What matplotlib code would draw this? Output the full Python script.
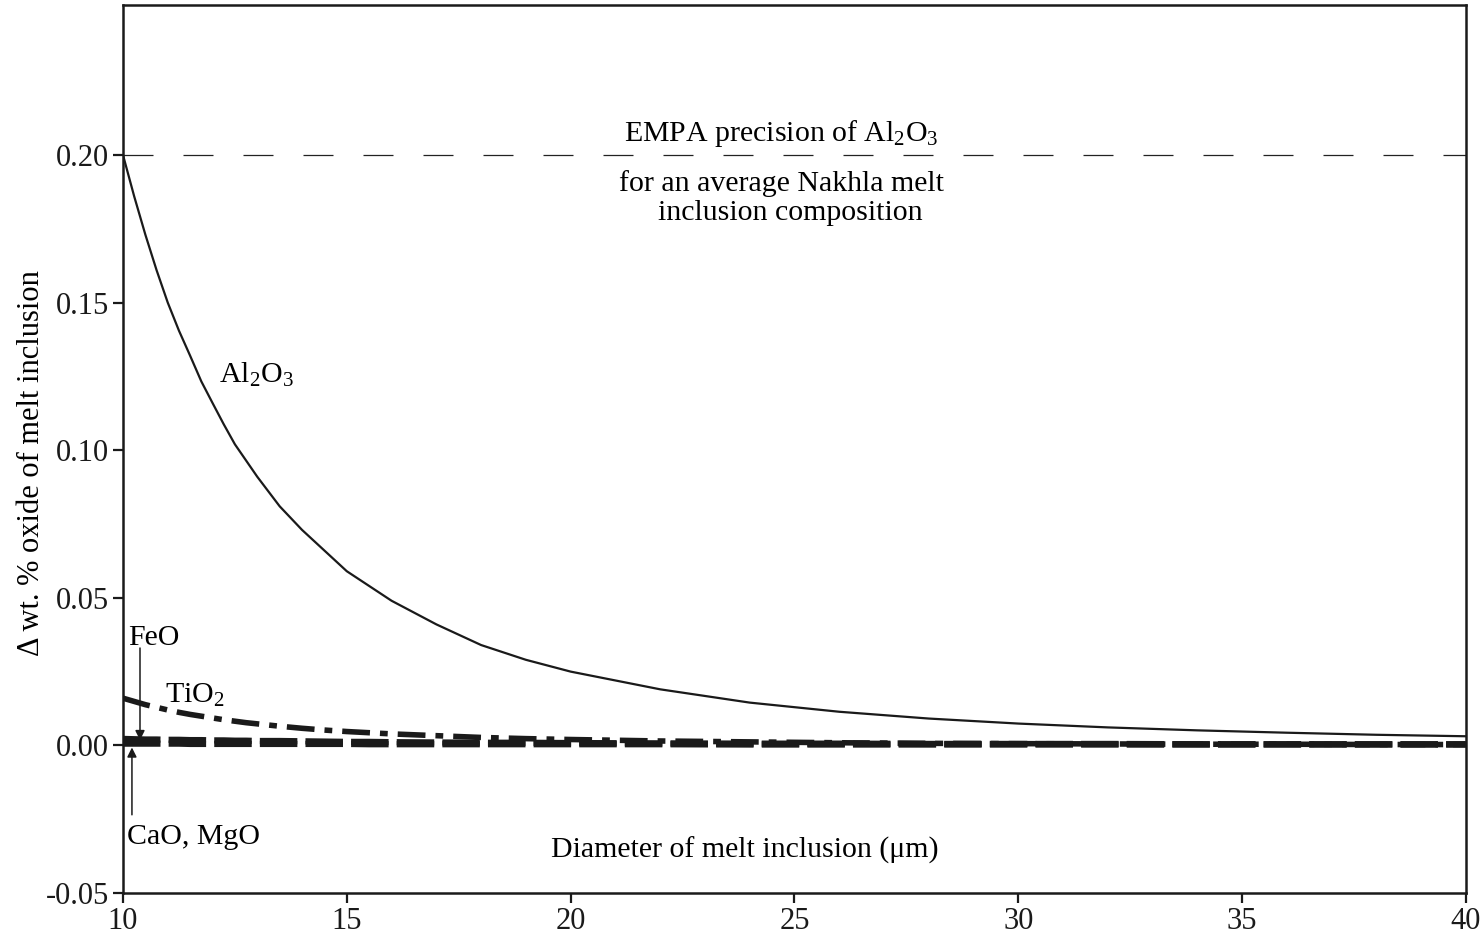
import matplotlib
matplotlib.use("Agg")
import matplotlib.pyplot as plt

plt.rcParams['font.family'] = ['Liberation Serif', 'DejaVu Serif']
plt.rcParams['mathtext.fontset'] = 'custom'
plt.rcParams['mathtext.rm'] = 'Liberation Serif'
plt.rcParams['mathtext.it'] = 'Liberation Serif:italic'

# Data
diam = [10, 10.25, 10.5, 10.75, 11, 11.25, 11.5, 11.75, 12, 12.25, 12.5, 12.75, 13, 13.5, 14, 14.5,
        15, 15.5, 16, 17, 18, 19, 20, 22, 24, 26, 28, 30, 32, 34, 36, 38, 40]
al2o3 = [0.200, 0.186, 0.173, 0.161, 0.150, 0.1405, 0.132, 0.1233, 0.116, 0.1088, 0.102, 0.0965,
         0.091, 0.081, 0.073, 0.066, 0.059, 0.054, 0.049, 0.041, 0.034, 0.029, 0.025,
         0.019, 0.0145, 0.0114, 0.0091, 0.0074, 0.0061, 0.0051, 0.0043, 0.0036, 0.0031]
tio2 = [0.0160, 0.0149, 0.0138, 0.0129, 0.0120, 0.0112, 0.0105, 0.0099, 0.0093, 0.0087, 0.0082,
        0.0077, 0.0073, 0.0065, 0.0058, 0.0052, 0.0047, 0.0043, 0.0039, 0.0033, 0.0027, 0.0023,
        0.0020, 0.0015, 0.0012, 0.0009, 0.0007, 0.0006, 0.0005, 0.0004, 0.0004, 0.0003, 0.0003]
feo = [0.0022, 0.0021, 0.0020, 0.0020, 0.0019, 0.0019, 0.0018, 0.0018, 0.0017, 0.0017, 0.0016,
       0.0016, 0.0015, 0.0015, 0.0014, 0.0013, 0.0012, 0.0012, 0.0011, 0.0010, 0.0009, 0.0009,
       0.0008, 0.0007, 0.0006, 0.0006, 0.0005, 0.0005, 0.0005, 0.0004, 0.0004, 0.0004, 0.0004]
camgo = [0.0006, 0.0006, 0.0006, 0.0006, 0.0006, 0.0006, 0.0005, 0.0005, 0.0005, 0.0005, 0.0005,
         0.0005, 0.0005, 0.0005, 0.0005, 0.0005, 0.0005, 0.0004, 0.0004, 0.0004, 0.0004, 0.0004,
         0.0004, 0.0004, 0.0003, 0.0003, 0.0003, 0.0003, 0.0003, 0.0003, 0.0003, 0.0003, 0.0003]
empa_precision = 0.20
yticks = [-0.05, 0.00, 0.05, 0.10, 0.15, 0.20]
xticks = [10, 15, 20, 25, 30, 35, 40]

fig = plt.figure(figsize=(14.8, 9.48), dpi=100)
ax = fig.add_axes([0.0831, 0.058, 0.9074, 0.9367])

ax.axhline(empa_precision, color='#222222', lw=0.9, dashes=(24, 24))
ax.plot(diam, al2o3, color='#1a1a1a', lw=1.6)
ax.plot(diam, tio2, color='#1a1a1a', lw=4.0, linestyle=(0, (5, 1.8, 1.4, 1.8)))
ax.plot(diam, feo, color='#1a1a1a', lw=4.5, linestyle=(0, (6, 1.3)))
ax.plot(diam, camgo, color='#1a1a1a', lw=4.5, linestyle=(0, (6, 1.3)))

ax.set_xlim(10, 40)
ax.set_ylim(-0.05, 0.2508)
ax.set_xticks(xticks)
ax.set_xticklabels([str(t) for t in xticks])
ax.set_yticks(yticks)
ax.set_yticklabels([f"{t:.2f}" for t in yticks])
ax.tick_params(direction='out', length=7, width=1.6, labelsize=22, colors='#1a1a1a', pad=3)
for s in ax.spines.values():
    s.set_linewidth(1.8)
    s.set_color('#1a1a1a')

ax.set_ylabel("\u0394 wt. % oxide of melt inclusion", fontsize=22)
ax.yaxis.set_label_coords(-0.057, 0.484)

fs = 21.5
ax.text(23.9, -0.0355, "Diameter of melt inclusion (\u03bcm)", fontsize=fs, ha='center', va='center')
ax.text(24.7, 0.2074, r"EMPA precision of Al$_2$O$_3$", fontsize=fs, ha='center', va='center')
ax.text(24.7, 0.1905, "for an average Nakhla melt", fontsize=fs, ha='center', va='center')
ax.text(24.9, 0.1804, "inclusion composition", fontsize=fs, ha='center', va='center')
ax.text(12.14, 0.1255, r"Al$_2$O$_3$", fontsize=fs, ha='left', va='center')
ax.text(10.94, 0.0169, r"TiO$_2$", fontsize=fs, ha='left', va='center')
ax.text(10.11, 0.0365, "FeO", fontsize=fs, ha='left', va='center')
ax.text(10.08, -0.0311, "CaO, MgO", fontsize=fs, ha='left', va='center')

ax.annotate("", xy=(10.38, 0.0018), xytext=(10.38, 0.033),
            arrowprops=dict(arrowstyle='-|>', color='#1a1a1a', lw=1.1, mutation_scale=14, shrinkA=0, shrinkB=0))
ax.annotate("", xy=(10.2, -0.0007), xytext=(10.2, -0.0235),
            arrowprops=dict(arrowstyle='-|>', color='#1a1a1a', lw=1.1, mutation_scale=14, shrinkA=0, shrinkB=0))

fig.savefig("out.png", dpi=100)
